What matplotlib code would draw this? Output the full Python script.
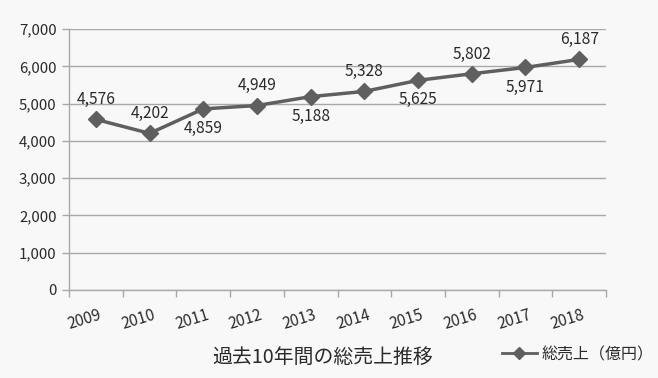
import matplotlib
matplotlib.use("Agg")
import matplotlib.pyplot as plt
from matplotlib.ticker import FuncFormatter, MultipleLocator

plt.rcParams['font.family'] = ['Noto Sans CJK JP', 'DejaVu Sans']

years = ['2009', '2010', '2011', '2012', '2013', '2014', '2015', '2016', '2017', '2018']
sales = [4576, 4202, 4859, 4949, 5188, 5328, 5625, 5802, 5971, 6187]
label_pos = ['above', 'above', 'below', 'above', 'below', 'above', 'below', 'above', 'below', 'above']
series_name = '総売上（億円）'
title = '過去10年間の総売上推移'

bg = '#f8f8f8'
line_c = '#5f5f5f'
grid_c = '#a8a8a8'
text_c = '#2a2a2a'

fig = plt.figure(figsize=(6.58, 3.78), dpi=100, facecolor=bg)
ax = fig.add_axes([0.105, 0.233, 0.816, 0.690])
ax.set_facecolor(bg)

x = list(range(len(years)))
ln, = ax.plot(x, sales, color=line_c, lw=2.5, marker='D', ms=8, mfc=line_c, mec=line_c,
              label=series_name, zorder=3)

for xi, v, p in zip(x, sales, label_pos):
    off = 8 if p == 'above' else -8
    ax.annotate(f'{v:,}', (xi, v), xytext=(0, off), textcoords='offset points',
                ha='center', va='bottom' if p == 'above' else 'top',
                fontsize=11.2, color=text_c)

ax.set_xlim(-0.5, len(years) - 0.5)
ax.set_ylim(0, 7000)
ax.yaxis.set_major_locator(MultipleLocator(1000))
ax.yaxis.set_major_formatter(FuncFormatter(lambda v, p: f'{int(v):,}'))
ax.grid(axis='y', color=grid_c, lw=1)
ax.set_axisbelow(True)

ax.set_xticks([i - 0.5 for i in range(len(years) + 1)], minor=False)
ax.set_xticklabels([''] * (len(years) + 1))
ax.tick_params(axis='x', length=5, color=grid_c, width=1)
ax.tick_params(axis='y', length=5, color=grid_c, width=1, labelsize=10.8, labelcolor=text_c, pad=4)

for xi, yr in zip(x, years):
    ax.annotate(yr, (xi, 0), xytext=(2, -12), textcoords='offset points',
                ha='right', va='top', rotation=17, rotation_mode='anchor',
                fontsize=11.2, color=text_c, annotation_clip=False)

for s in ['top', 'right']:
    ax.spines[s].set_visible(False)
for s in ['left', 'bottom']:
    ax.spines[s].set_color(grid_c)
    ax.spines[s].set_linewidth(1)

fig.text(0.49, 0.055, title, ha='center', va='center', fontsize=14.3, color=text_c)

leg = fig.legend(handles=[ln], loc='center', bbox_to_anchor=(0.878, 0.062), frameon=False,
                 fontsize=11.5, handlelength=2.2, labelcolor=text_c, handletextpad=0.3)
for h in leg.legend_handles:
    h.set_markersize(6)
    h.set_linewidth(2)

fig.savefig('out.png', dpi=100, facecolor=bg)
